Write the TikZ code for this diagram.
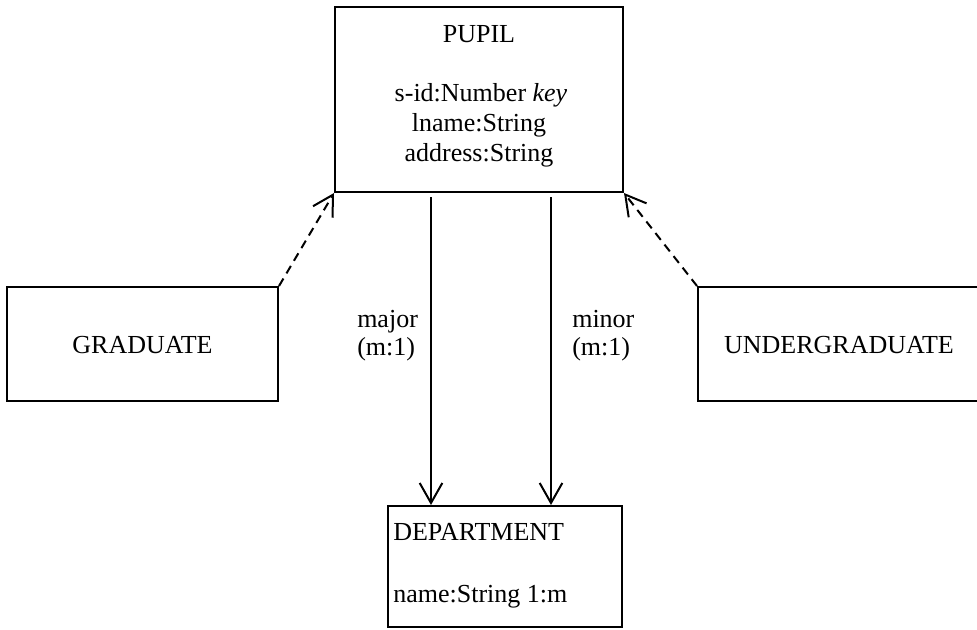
\documentclass[tikz,border=0pt]{standalone}
\usepackage{fontspec}
\setmainfont{Liberation Serif}
\usetikzlibrary{arrows.meta}
\begin{document}
\begin{tikzpicture}[x=0.75pt,y=-0.75pt,
  box/.style={draw, line width=1.5pt, rectangle, inner sep=0pt},
  lbl/.style={inner sep=0pt, font=\fontsize{19.5}{23}\selectfont},
  conn/.style={line width=1.5pt, -{Straight Barb[length=15pt,width=17pt,line width=1.5pt]}},
  dashconn/.style={conn, dash pattern=on 6.5pt off 4.5pt}]
\useasboundingbox (0,0) rectangle (977,629);
\clip (0,0) rectangle (977,629);
\fill[white] (0,0) rectangle (977,629);
% boxes
\node[box, minimum width=216pt, minimum height=138.75pt] (pupil) at (479,99.5) {};
\node[box, minimum width=203.25pt, minimum height=85.5pt] (grad) at (142.5,344) {};
\node[box, minimum width=211.5pt, minimum height=85.5pt] (ugrad) at (839,344) {};
\node[box, minimum width=175.5pt, minimum height=90.75pt] (dept) at (505,566.5) {};
% texts
\node[lbl, anchor=base] (pupiltitle) at (479,42) {PUPIL};
\node[lbl, anchor=base] (sid) at (481,101) {s-id:Number \textit{key}};
\node[lbl, anchor=base] (lname) at (479,131) {lname:String};
\node[lbl, anchor=base] (addr) at (479,161) {address:String};
\node[lbl, anchor=base] (gradtxt) at (142.5,353) {GRADUATE};
\node[lbl, anchor=base] (ugradtxt) at (839,353) {UNDERGRADUATE};
\node[lbl, anchor=base west] (depttxt) at (393,540) {DEPARTMENT};
\node[lbl, anchor=base west] (nametxt) at (393,602) {name:String 1:m};
\node[lbl, anchor=base west] (major) at (357,327) {major};
\node[lbl, anchor=base west] (majorc) at (357,355) {(m:1)};
\node[lbl, anchor=base west] (minor) at (572,327) {minor};
\node[lbl, anchor=base west] (minorc) at (572,355) {(m:1)};
% connectors
\coordinate (xa) at (431,0);
\coordinate (xb) at (551,0);
\draw[conn, shorten <=3pt] (pupil.south -| xa) -- (dept.north -| xa);
\draw[conn, shorten <=3pt] (pupil.south -| xb) -- (dept.north -| xb);
\draw[dashconn] (grad.north east) -- (pupil.south west);
\draw[dashconn] (ugrad.north west) -- (pupil.south east);
\end{tikzpicture}
\end{document}
